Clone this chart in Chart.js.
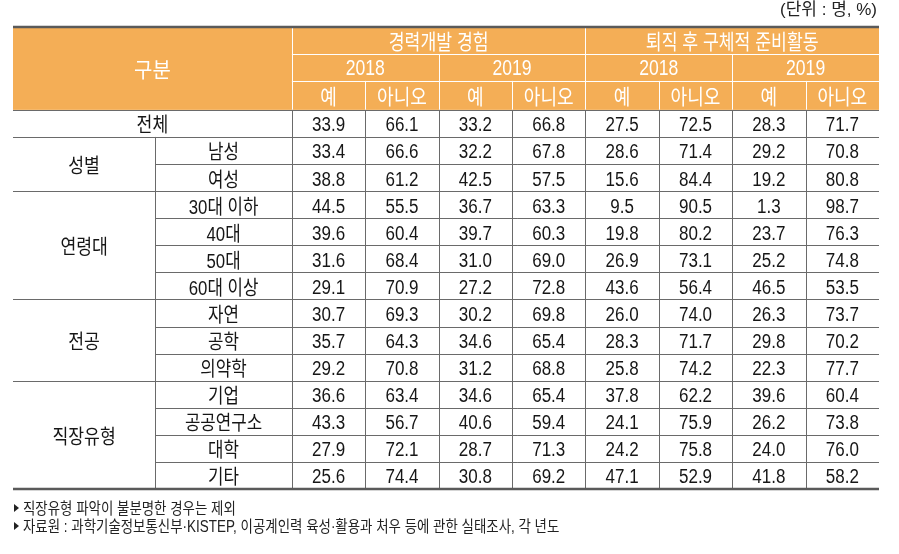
<!DOCTYPE html>
<html lang="ko">
<head>
<meta charset="utf-8">
<script src="https://cdn.jsdelivr.net/npm/chart.js@4/dist/chart.umd.min.js"></script>
<style>
  html, body { margin: 0; padding: 0; background: #ffffff; }
  #wrap { position: relative; width: 899px; height: 554px; }
  canvas { display: block; }
</style>
</head>
<body>
<div id="wrap"><canvas id="c" width="899" height="554"></canvas></div>
<script>
// ---------- data ----------
const unitLabel = '(단위 : 명, %)';
const cornerLabel = '구분';
const topicLabels = ['경력개발 경험', '퇴직 후 구체적 준비활동'];
const yearLabels = ['2018', '2019', '2018', '2019'];
const answerLabels = ['예', '아니오', '예', '아니오', '예', '아니오', '예', '아니오'];

const totalLabel = '전체';
const groupNames = ['성별', '연령대', '전공', '직장유형'];
const groupSizes = [2, 4, 3, 4];
const rowLabels = ['전체', '남성', '여성', '30대 이하', '40대', '50대', '60대 이상', '자연', '공학', '의약학', '기업', '공공연구소', '대학', '기타'];

const careerYes2018 = [33.9, 33.4, 38.8, 44.5, 39.6, 31.6, 29.1, 30.7, 35.7, 29.2, 36.6, 43.3, 27.9, 25.6];
const careerNo2018  = [66.1, 66.6, 61.2, 55.5, 60.4, 68.4, 70.9, 69.3, 64.3, 70.8, 63.4, 56.7, 72.1, 74.4];
const careerYes2019 = [33.2, 32.2, 42.5, 36.7, 39.7, 31.0, 27.2, 30.2, 34.6, 31.2, 34.6, 40.6, 28.7, 30.8];
const careerNo2019  = [66.8, 67.8, 57.5, 63.3, 60.3, 69.0, 72.8, 69.8, 65.4, 68.8, 65.4, 59.4, 71.3, 69.2];
const retireYes2018 = [27.5, 28.6, 15.6, 9.5, 19.8, 26.9, 43.6, 26.0, 28.3, 25.8, 37.8, 24.1, 24.2, 47.1];
const retireNo2018  = [72.5, 71.4, 84.4, 90.5, 80.2, 73.1, 56.4, 74.0, 71.7, 74.2, 62.2, 75.9, 75.8, 52.9];
const retireYes2019 = [28.3, 29.2, 19.2, 1.3, 23.7, 25.2, 46.5, 26.3, 29.8, 22.3, 39.6, 26.2, 24.0, 41.8];
const retireNo2019  = [71.7, 70.8, 80.8, 98.7, 76.3, 74.8, 53.5, 73.7, 70.2, 77.7, 60.4, 73.8, 76.0, 58.2];

const footnotes = [
  '직장유형 파악이 불분명한 경우는 제외',
  '자료원 : 과학기술정보통신부·KISTEP, 이공계인력 육성·활용과 처우 등에 관한 실태조사, 각 년도'
];

const valueColumns = [careerYes2018, careerNo2018, careerYes2019, careerNo2019,
                      retireYes2018, retireNo2018, retireYes2019, retireNo2019];

// ---------- layout / style ----------
const X_MIN = -3.8, X_MAX = 8;       // data columns are 0..8, label columns to the left
const LABEL_SPLIT = -1.862;          // divider between group / sub label columns
const Y_MIN = -3.06, Y_MAX = 14;     // data rows 0..14, header rows above
const HEADER_ROWS = [-3.06, -2.06, -1.07, 0];
const FONT = "'Liberation Sans', 'Noto Sans CJK KR', sans-serif";
const HEADER_FILL = '#F4AE56';
const LINE = '#6a6a6a';
const THICK = '#5a5a5a';
const TEXT = '#161616';

function txt(ctx, s, x, y, size, color, sx, align) {
  ctx.save();
  ctx.font = size + 'px ' + FONT;
  ctx.fillStyle = color;
  ctx.textBaseline = 'alphabetic';
  ctx.textAlign = align || 'center';
  ctx.translate(x, y);
  ctx.scale(sx, 1);
  ctx.fillText(s, 0, 0);
  ctx.restore();
}
function hline(ctx, x1, x2, y, w, color) {
  ctx.save();
  ctx.strokeStyle = color; ctx.lineWidth = w;
  const yy = w % 2 === 1 ? Math.round(y) + 0.5 : y;
  ctx.beginPath(); ctx.moveTo(x1, yy); ctx.lineTo(x2, yy); ctx.stroke();
  ctx.restore();
}
function vline(ctx, x, y1, y2, w, color) {
  ctx.save();
  ctx.strokeStyle = color; ctx.lineWidth = w;
  const xx = Math.round(x) + 0.5;
  ctx.beginPath(); ctx.moveTo(xx, y1); ctx.lineTo(xx, y2); ctx.stroke();
  ctx.restore();
}

const tablePlugin = {
  id: 'tablePlugin',
  beforeDatasetsDraw(chart) {
    const ctx = chart.ctx;
    const xs = chart.scales.x, ys = chart.scales.y;
    const X = v => xs.getPixelForValue(v);
    const Y = v => ys.getPixelForValue(v);
    const left = X(X_MIN), right = X(X_MAX);
    const top = Y(HEADER_ROWS[0]), hb = Y(0), bottom = Y(Y_MAX);

    // header background
    ctx.save();
    ctx.fillStyle = HEADER_FILL;
    ctx.fillRect(left, top, right - left, hb - top);
    ctx.restore();

    // header white rules
    hline(ctx, X(0), right, Y(HEADER_ROWS[1]), 1, '#ffffff');
    hline(ctx, X(0), right, Y(HEADER_ROWS[2]), 1, '#ffffff');
    vline(ctx, X(0), top, hb, 1, '#ffffff');
    vline(ctx, X(4), top, hb, 1, '#ffffff');
    vline(ctx, X(2), Y(HEADER_ROWS[1]), hb, 1, '#ffffff');
    vline(ctx, X(6), Y(HEADER_ROWS[1]), hb, 1, '#ffffff');
    for (const c of [1, 3, 5, 7]) vline(ctx, X(c), Y(HEADER_ROWS[2]), hb, 1, '#ffffff');

    // header texts
    const hc = r0 => (Y(HEADER_ROWS[r0]) + Y(HEADER_ROWS[r0 + 1])) / 2;
    txt(ctx, cornerLabel, (left + X(0)) / 2, (top + hb) / 2 + 9, 21, '#ffffff', 0.95);
    topicLabels.forEach((t, i) => txt(ctx, t, X(i * 4 + 2), hc(0) + 8.5, 21, '#ffffff', 0.82));
    yearLabels.forEach((t, i) => txt(ctx, t, X(i * 2 + 1), hc(1) + 8, 22, '#ffffff', 0.8));
    answerLabels.forEach((t, i) => txt(ctx, t, X(i + 0.5), hc(2) + 8.5, 21, '#ffffff', 0.86));

    // body rules
    vline(ctx, X(0), hb, bottom, 1, LINE);
    for (let c = 1; c < 8; c++) vline(ctx, X(c), hb, bottom, 1, LINE);
    vline(ctx, X(LABEL_SPLIT), Y(1), bottom, 1, LINE);
    const groupStarts = [];
    let r = 1;
    groupSizes.forEach(n => { groupStarts.push(r); r += n; });
    for (let i = 1; i < rowLabels.length; i++) {
      const full = i === 1 || groupStarts.includes(i);
      hline(ctx, full ? left : X(LABEL_SPLIT), right, Y(i), 1, LINE);
    }
    hline(ctx, left, right, hb, 1, LINE);
    hline(ctx, left, right, top, 2.6, THICK);
    hline(ctx, left, right, bottom, 2.6, THICK);

    // label column texts
    txt(ctx, totalLabel, (left + X(0)) / 2, (Y(0) + Y(1)) / 2 + 9, 20, TEXT, 0.86);
    groupNames.forEach((g, i) => {
      const s = groupStarts[i], e = s + groupSizes[i];
      txt(ctx, g, (left + X(LABEL_SPLIT)) / 2, (Y(s) + Y(e)) / 2 + 9, 20, TEXT, 0.86);
    });
    for (let i = 1; i < rowLabels.length; i++) {
      txt(ctx, rowLabels[i], (X(LABEL_SPLIT) + X(0)) / 2, (Y(i) + Y(i + 1)) / 2 + 9, 20, TEXT, 0.84);
    }
  },
  afterDatasetsDraw(chart) {
    const ctx = chart.ctx;
    chart.data.datasets.forEach((ds, di) => {
      const meta = chart.getDatasetMeta(di);
      meta.data.forEach((el, i) => {
        const v = ds.data[i].v;
        txt(ctx, v.toFixed(1), el.x, el.y + 8, 20, TEXT, 0.85);
      });
    });
  },
  afterDraw(chart) {
    const ctx = chart.ctx;
    const xs = chart.scales.x;
    const right = xs.getPixelForValue(X_MAX);
    const left = xs.getPixelForValue(X_MIN);
    txt(ctx, unitLabel, right - 2, 15, 17, '#222222', 1.0, 'right');
    const fy = [508, 526];
    footnotes.forEach((f, i) => {
      ctx.save();
      ctx.fillStyle = '#222222';
      ctx.beginPath();
      ctx.moveTo(left + 1, fy[i] - 4);
      ctx.lineTo(left + 6, fy[i]);
      ctx.lineTo(left + 1, fy[i] + 4);
      ctx.closePath();
      ctx.fill();
      ctx.restore();
      txt(ctx, f, left + 10, fy[i] + 6, 16, '#222222', 0.84, 'left');
    });
  }
};

const datasets = valueColumns.map((col, c) => ({
  label: answerLabels[c],
  data: col.map((v, r) => ({ x: c + 0.5, y: r + 0.5, v: v })),
  pointRadius: 0,
  pointHoverRadius: 0,
  showLine: false
}));

new Chart(document.getElementById('c'), {
  type: 'scatter',
  data: { datasets },
  options: {
    responsive: false,
    animation: false,
    events: [],
    layout: { padding: { left: 13, right: 20, top: 27, bottom: 65 } },
    plugins: { legend: { display: false }, tooltip: { enabled: false }, title: { display: false } },
    scales: {
      x: { type: 'linear', min: X_MIN, max: X_MAX, display: false },
      y: { type: 'linear', min: Y_MIN, max: Y_MAX, reverse: true, display: false }
    }
  },
  plugins: [tablePlugin]
});
</script>
</body>
</html>
